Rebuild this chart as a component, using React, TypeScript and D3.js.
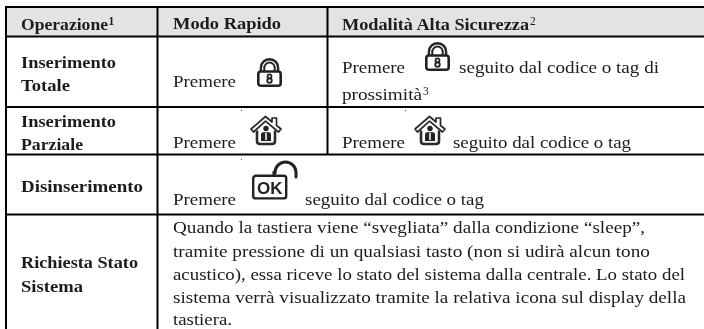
import React from "react";
import * as d3 from "d3";

const W = 704, H = 329;

// ---- content ----
const headers = ["Operazione", "Modo Rapido", "Modalità Alta Sicurezza"];
const headerNotes = ["1", "", "2"];
const operations = ["Inserimento", "Totale", "Inserimento", "Parziale", "Disinserimento", "Richiesta Stato", "Sistema"];
const press = "Premere";
const follow = "seguito dal codice o tag";
const followLong = "seguito dal codice o tag di";
const proximity = "prossimità";
const paragraph = [
  "Quando la tastiera viene “svegliata” dalla condizione “sleep”,",
  "tramite pressione di un qualsiasi tasto (non si udirà alcun tono",
  "acustico), essa riceve lo stato del sistema dalla centrale. Lo stato del",
  "sistema verrà visualizzato tramite la relativa icona sul display della",
  "tastiera.",
];

// ---- layout (separate from content) ----
const colEdges = [6, 157.5, 327.5];
const rowEdges = [7, 36.5, 107, 154.5, 214.5];
const colText = [21, 173, 342];
const FONT = "'Liberation Serif', serif";
const SIZE = 16.6;
const INK = "#1c1c1c";

const col = d3.scaleOrdinal<number, number>().domain([0, 1, 2]).range(colText);

function T({ x, y, end, bold, sup, children }: any) {
  return (
    <text
      x={x}
      y={y}
      textLength={sup ? undefined : end - x}
      lengthAdjust="spacingAndGlyphs"
      fontFamily={FONT}
      fontSize={sup ? 11.5 : SIZE}
      fontWeight={bold ? 700 : 400}
      fill={INK}
    >
      {children}
    </text>
  );
}

function shackle(cx: number, top: number, r: number, bottom: number) {
  const p = d3.path();
  p.moveTo(cx - r, bottom);
  p.lineTo(cx - r, top + r);
  p.arc(cx, top + r, r, Math.PI, 0);
  p.lineTo(cx + r, bottom);
  return p.toString();
}

function Lock({ x, y }: { x: number; y: number }) {
  // origin = top-left of a 25x29 glyph
  return (
    <g transform={`translate(${x},${y})`} fill="none" stroke="#222" strokeLinejoin="round">
      <path d={shackle(12.5, 1.2, 8.6, 15)} strokeWidth={2.4} />
      <path d={shackle(12.5, 4.6, 5.2, 15)} strokeWidth={2} />
      <rect x={1.3} y={13.5} width={22.4} height={14.3} rx={2.5} strokeWidth={2.6} fill="#fff" />
      <circle cx={12.5} cy={18.4} r={2} strokeWidth={1.8} />
      <circle cx={12.5} cy={22.6} r={2.3} strokeWidth={1.8} />
    </g>
  );
}

function House({ x, y }: { x: number; y: number }) {
  // origin = top-left of a 32x30 glyph
  return (
    <g transform={`translate(${x},${y})`} fill="none" stroke="#2a2a2a" strokeLinejoin="round">
      <path d="M1,14 L15.5,1.5 L22,7 L22,3 L26.5,3 L26.5,10.5 L31,14 L28.5,17 L15.5,6.2 L3.5,17 Z" fill="#fff" strokeWidth={1.7} />
      <path d="M7,15.5 L7,26 Q7,29 10,29 L22,29 Q25,29 25,26 L25,15.5" strokeWidth={2.6} />
      <circle cx={16} cy={13.5} r={2.7} fill="#222" stroke="none" />
      <path d="M11,26 L11,19.5 Q11,17.3 13,17.3 L19,17.3 Q21,17.3 21,19.5 L21,26 Z" fill="#222" stroke="none" />
      <path d="M15.1,18 L16.9,18 L16.9,25 L15.1,25 Z" fill="#ddd" stroke="none" />
    </g>
  );
}

function OkLock({ x, y }: { x: number; y: number }) {
  // origin = top-left of the box; shackle rises above it
  const p = d3.path();
  p.moveTo(22, 0);
  p.lineTo(22, -2.5);
  p.arc(33.5, -2.5, 10.5, Math.PI, 0);
  p.lineTo(44, 2);
  return (
    <g transform={`translate(${x},${y})`} fill="none" stroke="#222">
      <path d={p.toString()} strokeWidth={3} strokeLinecap="round" />
      <rect x={1.2} y={0.8} width={33} height={22.6} rx={2.5} strokeWidth={2.4} fill="#fff" />
      <text x={17.8} y={18.6} textAnchor="middle" fontFamily="'Liberation Sans', sans-serif" fontWeight={700} fontSize={17} fill="#222" stroke="none">OK</text>
    </g>
  );
}

const specks: [number, number][] = [[241, 110], [241, 159], [405, 110]];

export default function App() {
  const right = W;
  return (
    <svg
      width={W}
      height={H}
      viewBox={`0 0 ${W} ${H}`}
      style={{ position: "absolute", left: 0, top: 0, display: "block", background: "#fff" }}
    >
      <defs>
        <filter id="soft" x="-5%" y="-5%" width="110%" height="110%">
          <feGaussianBlur stdDeviation="0.3" />
        </filter>
      </defs>
      <rect x={colEdges[0]} y={rowEdges[0]} width={right - colEdges[0]} height={rowEdges[1] - rowEdges[0]} fill="#e3e3e3" />

      {rowEdges.map((y, i) => (
        <line key={i} x1={colEdges[0] - 1} x2={right} y1={y} y2={y} stroke="#000" strokeWidth={2} />
      ))}
      <line x1={colEdges[0]} x2={colEdges[0]} y1={rowEdges[0]} y2={H} stroke="#000" strokeWidth={2} />
      <line x1={colEdges[1]} x2={colEdges[1]} y1={rowEdges[0]} y2={H} stroke="#000" strokeWidth={2} />
      <line x1={colEdges[2]} x2={colEdges[2]} y1={rowEdges[0]} y2={rowEdges[3]} stroke="#000" strokeWidth={2} />

      <g filter="url(#soft)">
        {/* header */}
        <T x={col(0)} y={30} end={108} bold>{headers[0]}</T>
        <T x={108.5} y={25} sup bold>{headerNotes[0]}</T>
        <T x={col(1)} y={29} end={281} bold>{headers[1]}</T>
        <T x={col(2)} y={30} end={529} bold>{headers[2]}</T>
        <T x={530} y={25} sup>{headerNotes[2]}</T>

        {/* first column */}
        <T x={col(0)} y={68} end={116} bold>{operations[0]}</T>
        <T x={col(0)} y={91} end={70} bold>{operations[1]}</T>
        <T x={col(0)} y={127} end={116} bold>{operations[2]}</T>
        <T x={col(0)} y={150} end={83} bold>{operations[3]}</T>
        <T x={col(0)} y={192} end={143} bold>{operations[4]}</T>
        <T x={col(0)} y={268} end={138} bold>{operations[5]}</T>
        <T x={col(0)} y={292} end={83} bold>{operations[6]}</T>

        {/* row 1 */}
        <T x={col(1)} y={87} end={236}>{press}</T>
        <Lock x={257} y={58} />
        <T x={col(2)} y={73} end={405}>{press}</T>
        <Lock x={425} y={42} />
        <T x={459} y={73} end={659}>{followLong}</T>
        <T x={col(2)} y={100} end={422}>{proximity}</T>
        <T x={423} y={95} sup>3</T>

        {/* row 2 */}
        <T x={col(1)} y={148} end={236}>{press}</T>
        <House x={250} y={115} />
        <T x={col(2)} y={148} end={405}>{press}</T>
        <House x={414} y={115} />
        <T x={453} y={148} end={631}>{follow}</T>

        {/* row 3 */}
        <T x={col(1)} y={205} end={236}>{press}</T>
        <OkLock x={252} y={175} />
        <T x={305} y={205} end={484}>{follow}</T>

        {/* row 4 */}
        {paragraph.map((line, i) => (
          <T key={i} x={col(1)} y={[233, 257, 280, 303, 325][i]} end={[645, 650, 685, 686, 232][i]}>{line}</T>
        ))}
      </g>

      {specks.map(([x, y], i) => (
        <rect key={i} x={x} y={y} width={1} height={1} fill="#d23" />
      ))}
    </svg>
  );
}
